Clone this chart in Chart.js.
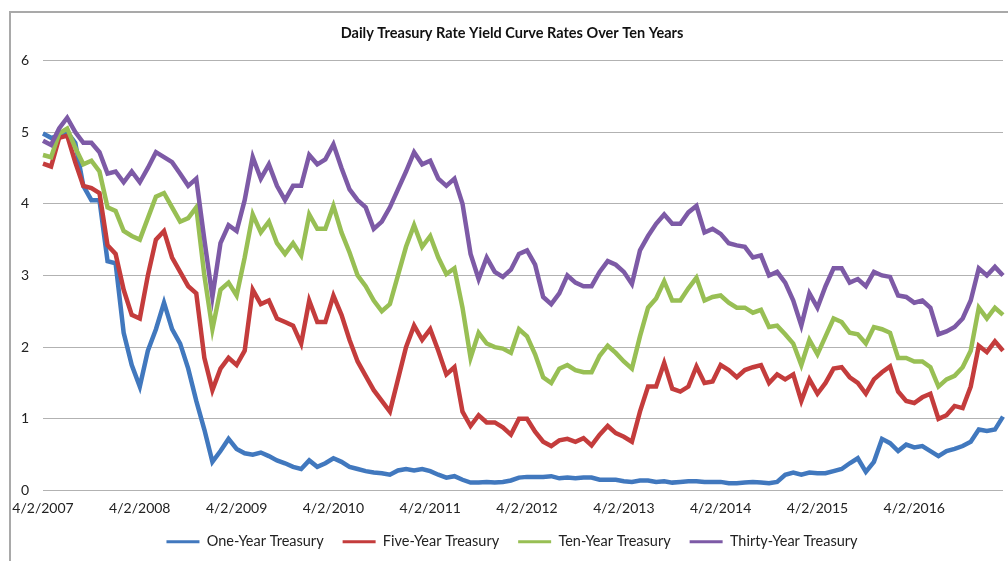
<!DOCTYPE html>
<html>
<head>
<meta charset="utf-8">
<script src="https://cdn.jsdelivr.net/npm/chart.js@4.4.1/dist/chart.umd.min.js"></script>
<style>
html,body{margin:0;padding:0;background:#fff}
#wrap{position:relative;width:1008px;height:561px;overflow:hidden}
#frame{position:absolute;left:9px;top:11px;width:1100px;height:700px;border-left:2px solid #a9a9a9;border-top:2px solid #a9a9a9}
canvas{position:absolute;left:0;top:0}
</style>
</head>
<body>
<div id="wrap"><div id="frame"></div><canvas id="chart" width="1008" height="561"></canvas></div>
<script>
const TITLE = 'Daily Treasury Rate Yield Curve Rates Over Ten Years';

// one point per month, Apr 2007 .. Mar 2017
const months = [];
for (let i = 0; i < 120; i++) {
  const d = new Date(2007, 3 + i, 1);
  months.push((d.getMonth() + 1) + '/1/' + d.getFullYear());
}
const yearTicks = ['4/2/2007','4/2/2008','4/2/2009','4/2/2010','4/2/2011','4/2/2012','4/2/2013','4/2/2014','4/2/2015','4/2/2016'];
const seriesNames = ['One-Year Treasury','Five-Year Treasury','Ten-Year Treasury','Thirty-Year Treasury'];

const oneYear = [
  4.98,4.92,4.95,5.00,4.85,4.25,4.05,4.05,3.20,
  3.17,2.20,1.75,1.45,1.95,2.25,2.62,2.25,2.05,1.70,1.25,0.85,
  0.40,0.55,0.72,0.58,0.52,0.50,0.53,0.48,0.42,0.38,0.33,0.30,
  0.42,0.33,0.38,0.45,0.40,0.33,0.30,0.27,0.25,0.24,0.22,0.28,
  0.30,0.28,0.30,0.27,0.22,0.18,0.20,0.15,0.11,0.11,0.12,0.11,
  0.12,0.14,0.18,0.19,0.19,0.19,0.20,0.17,0.18,0.17,0.18,0.18,
  0.15,0.15,0.15,0.13,0.12,0.14,0.14,0.12,0.13,0.11,0.12,0.13,
  0.13,0.12,0.12,0.12,0.10,0.10,0.11,0.12,0.11,0.10,0.12,0.22,
  0.25,0.22,0.25,0.24,0.24,0.27,0.30,0.38,0.45,0.26,0.40,0.72,
  0.66,0.55,0.64,0.60,0.62,0.55,0.48,0.55,0.58,0.62,0.68,0.85,
  0.83,0.85,1.03];
const fiveYear = [
  4.56,4.52,4.92,4.95,4.58,4.25,4.22,4.15,3.42,
  3.30,2.80,2.45,2.40,3.00,3.50,3.62,3.25,3.05,2.85,2.75,1.85,
  1.40,1.70,1.85,1.75,1.95,2.80,2.60,2.65,2.40,2.35,2.30,2.05,
  2.65,2.35,2.35,2.72,2.45,2.10,1.80,1.60,1.40,1.25,1.10,1.55,
  2.00,2.30,2.10,2.25,1.95,1.62,1.72,1.10,0.90,1.05,0.95,0.95,
  0.88,0.78,1.00,1.00,0.82,0.68,0.62,0.70,0.72,0.68,0.73,0.63,
  0.78,0.90,0.80,0.75,0.68,1.10,1.45,1.45,1.78,1.42,1.38,1.45,
  1.73,1.50,1.52,1.75,1.68,1.58,1.68,1.72,1.75,1.50,1.62,1.55,
  1.62,1.25,1.55,1.35,1.50,1.70,1.72,1.58,1.50,1.35,1.55,1.65,
  1.73,1.38,1.25,1.22,1.30,1.35,1.00,1.05,1.18,1.15,1.45,2.02,
  1.93,2.08,1.95];
const tenYear = [
  4.68,4.65,4.98,5.05,4.78,4.55,4.60,4.45,3.95,
  3.90,3.62,3.55,3.50,3.80,4.10,4.15,3.95,3.75,3.80,3.95,3.00,
  2.25,2.80,2.90,2.72,3.25,3.85,3.60,3.75,3.45,3.30,3.45,3.28,
  3.85,3.65,3.65,3.97,3.60,3.32,3.00,2.85,2.65,2.50,2.60,3.00,
  3.40,3.70,3.40,3.55,3.25,3.02,3.10,2.55,1.85,2.20,2.05,2.00,
  1.98,1.92,2.25,2.15,1.90,1.58,1.50,1.70,1.75,1.68,1.65,1.65,
  1.88,2.02,1.92,1.80,1.70,2.15,2.55,2.68,2.92,2.65,2.65,2.82,
  2.97,2.65,2.70,2.72,2.62,2.55,2.55,2.48,2.52,2.28,2.30,2.18,
  2.05,1.75,2.10,1.90,2.15,2.40,2.35,2.20,2.18,2.05,2.28,2.25,
  2.20,1.85,1.85,1.80,1.80,1.72,1.45,1.55,1.60,1.72,1.95,2.55,
  2.40,2.55,2.45];
const thirtyYear = [
  4.88,4.82,5.05,5.20,5.00,4.85,4.85,4.72,4.42,
  4.45,4.30,4.45,4.30,4.50,4.72,4.65,4.58,4.42,4.25,4.35,3.50,
  2.70,3.45,3.70,3.62,4.05,4.65,4.35,4.55,4.25,4.05,4.25,4.25,
  4.68,4.55,4.62,4.83,4.50,4.20,4.05,3.95,3.65,3.75,3.95,4.20,
  4.45,4.72,4.55,4.60,4.35,4.25,4.35,4.00,3.30,2.95,3.25,3.05,
  2.98,3.08,3.30,3.35,3.15,2.70,2.60,2.75,3.00,2.90,2.85,2.85,
  3.05,3.20,3.15,3.05,2.88,3.35,3.55,3.72,3.85,3.72,3.72,3.88,
  3.97,3.60,3.65,3.58,3.45,3.42,3.40,3.25,3.28,3.00,3.05,2.90,
  2.65,2.30,2.75,2.55,2.85,3.10,3.10,2.90,2.95,2.85,3.05,3.00,
  2.98,2.72,2.70,2.62,2.65,2.55,2.18,2.22,2.28,2.40,2.65,3.10,
  3.00,3.12,3.00];

const colors = ['#4178be','#c43c3c','#98bf54','#7d5aa6'];
const font = { family: 'Lato', size: 14 };

// Excel draws the last series on top, Chart.js draws lowest order on top
const makeSet = (i, data) => ({
  label: seriesNames[i], data,
  borderColor: colors[i], backgroundColor: colors[i],
  borderWidth: 4.5, pointRadius: 0, tension: 0, order: 4 - i
});

new Chart(document.getElementById('chart'), {
  type: 'line',
  data: {
    labels: months,
    datasets: [makeSet(0, oneYear), makeSet(1, fiveYear), makeSet(2, tenYear), makeSet(3, thirtyYear)]
  },
  options: {
    responsive: false, animation: false,
    layout: { padding: { left: 21, right: 5, top: 15, bottom: 2 } },
    plugins: {
      title: { display: true, text: TITLE, color: '#111', font: { family: 'Lato', size: 14.5, weight: 'bold' }, padding: { top: 10, bottom: 18 } },
      legend: {
        position: 'bottom',
        labels: {
          font: { family: 'Lato', size: 14.5 }, color: '#222', boxWidth: 33, boxHeight: 0, padding: 19,
          sort: (a, b) => a.datasetIndex - b.datasetIndex,
          generateLabels: chart => Chart.defaults.plugins.legend.labels.generateLabels(chart).map(l => ({ ...l, lineWidth: 3 }))
        }
      },
      tooltip: { enabled: false }
    },
    scales: {
      x: {
        grid: { display: false, drawTicks: false }, border: { display: false },
        ticks: { autoSkip: false, maxRotation: 0, padding: 10, font, color: '#222',
          callback: (v, i) => i % 12 === 0 ? yearTicks[i / 12] : null },
        afterFit: s => { s.height = 25; }
      },
      y: {
        min: 0, max: 6,
        grid: { color: '#b2b2b2', drawTicks: false }, border: { display: false },
        ticks: { stepSize: 1, padding: 14, font, color: '#222' },
        afterFit: s => { s.width = 22; }
      }
    }
  }
});
</script>
</body>
</html>
